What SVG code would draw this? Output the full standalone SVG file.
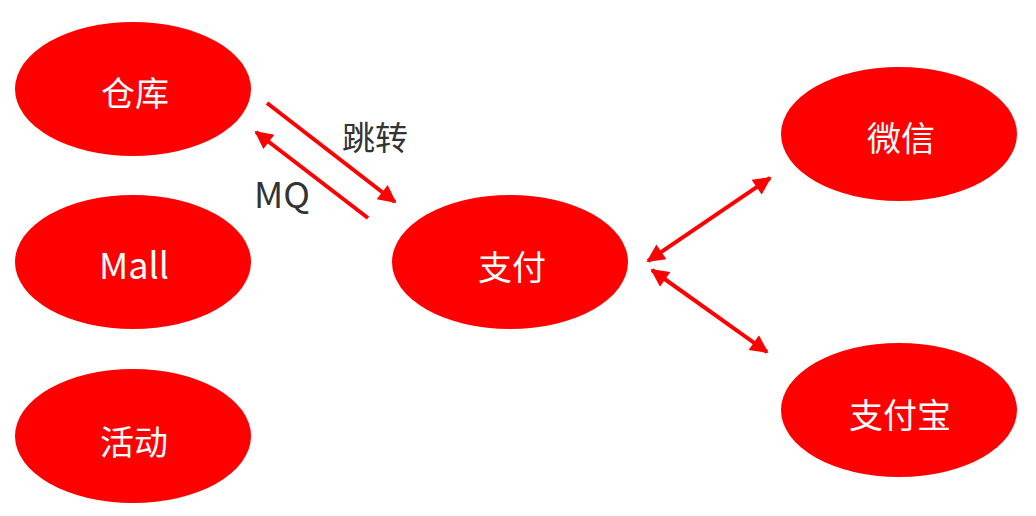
<svg xmlns="http://www.w3.org/2000/svg" width="1036" height="516" viewBox="0 0 1036 516">
<style>
.node ellipse{fill:#ff0000;}
.node text{fill:#ffffff;font-family:"Noto Sans CJK SC","Microsoft YaHei",sans-serif;font-size:34px;text-anchor:middle;dominant-baseline:central;}
.lbl{fill:#333333;font-family:"Noto Sans CJK SC",sans-serif;font-size:33px;text-anchor:middle;dominant-baseline:central;}
.conn line{stroke:#ff0000;stroke-width:4;fill:none;}
</style>
<defs>
<marker id="ah" viewBox="0 0 10 10" refX="9" refY="5" markerWidth="22" markerHeight="18" markerUnits="userSpaceOnUse" orient="auto-start-reverse">
<path d="M0,0 L10,5 L0,10 Z" fill="#ff0000"/>
</marker>
</defs>
<rect width="1036" height="516" fill="#ffffff"/>
<g id="n-cangku" class="node"><ellipse cx="133" cy="89" rx="118" ry="67"/><text x="135" y="91">仓库</text></g>
<g id="n-mall" class="node"><ellipse cx="133" cy="262" rx="118" ry="67"/><text x="134" y="263" style="font-size:36px">Mall</text></g>
<g id="n-huodong" class="node"><ellipse cx="133" cy="436" rx="118" ry="67"/><text x="134" y="440">活动</text></g>
<g id="n-zhifu" class="node"><ellipse cx="510" cy="262" rx="118" ry="67"/><text x="512" y="265">支付</text></g>
<g id="n-weixin" class="node"><ellipse cx="899" cy="134" rx="118" ry="67"/><text x="901" y="136">微信</text></g>
<g id="n-zhifubao" class="node"><ellipse cx="899" cy="410" rx="118" ry="67"/><text x="900" y="413">支付宝</text></g>
<g id="connectors" class="conn">
<line x1="267" y1="103" x2="395" y2="202" marker-end="url(#ah)"/>
<line x1="368" y1="218" x2="256" y2="132" marker-end="url(#ah)"/>
<line x1="648" y1="261" x2="770" y2="178" marker-start="url(#ah)" marker-end="url(#ah)"/>
<line x1="652" y1="270" x2="767" y2="352" marker-start="url(#ah)" marker-end="url(#ah)"/>
</g>
<g id="labels">
<text class="lbl" x="375" y="136">跳转</text>
<text class="lbl" x="282" y="192" style="font-size:36px">MQ</text>
</g>
</svg>
